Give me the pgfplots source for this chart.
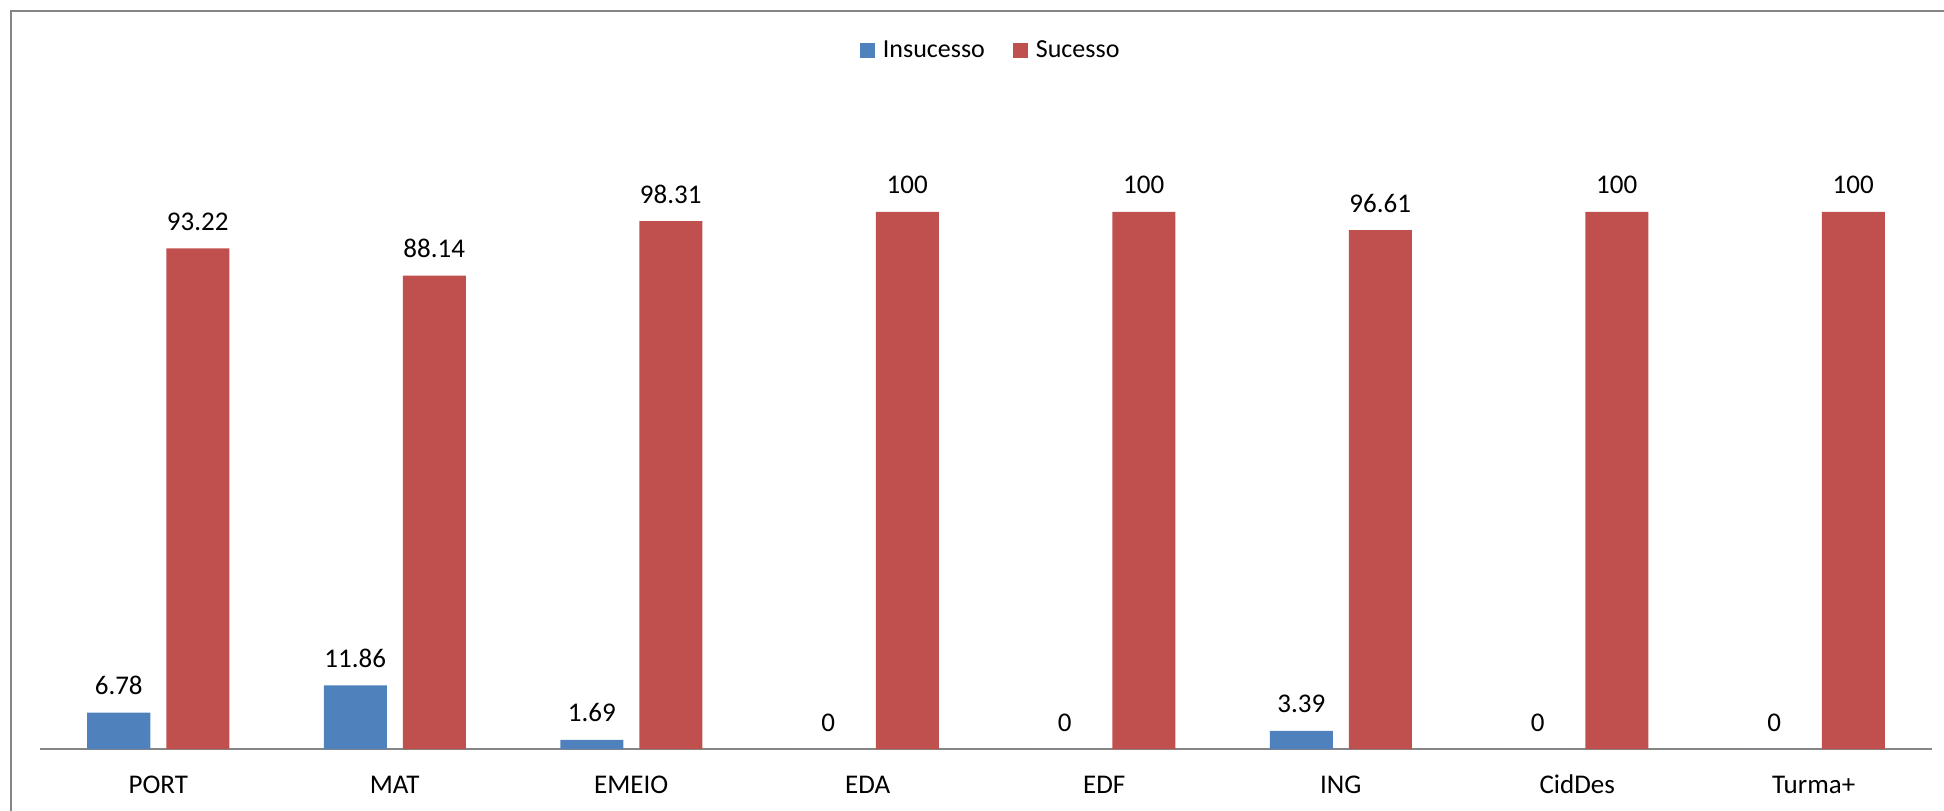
\documentclass[border=0pt]{standalone}
\usepackage{pgfplots}
\pgfplotsset{compat=1.18}
\usepackage{fontspec}
\setmainfont{Carlito}
\definecolor{cblue}{HTML}{4F81BD}
\definecolor{cred}{HTML}{C0504D}
\definecolor{cgray}{HTML}{868686}
\begin{document}
\begin{tikzpicture}[x=1pt,y=1pt]
\useasboundingbox (0,0) rectangle (972,405);
\draw[cgray, line width=1pt] (5.5,-5) -- (5.5,399.5) -- (980,399.5);
\begin{axis}[
  at={(20pt,30.5pt)}, anchor=south west,
  scale only axis, width=946pt, height=268.5pt,
  ymin=0, ymax=100, xmin=-0.5, xmax=7.5,
  clip=false,
  axis x line*=bottom, axis y line=none,
  x axis line style={cgray, line width=1pt, -},
  ybar=8pt, bar width=31.5pt,
  xtick={0,...,7},
  xticklabels={PORT,MAT,EMEIO,EDA,EDF,ING,CidDes,Turma+},
  major tick length=0pt,
  xticklabel style={anchor=base, yshift=-22pt, font=\fontsize{13.5}{16}\selectfont},
  nodes near coords={\pgfmathprintnumber[fixed,precision=2,assume math mode=true]{\pgfplotspointmeta}},
  every node near coord/.append style={anchor=base, yshift=9pt, font=\fontsize{13.5}{16}\selectfont, text=black},
  legend columns=2,
  legend style={at={(0.503,1.30)}, anchor=center, draw=none, fill=none,
    font=\fontsize{13}{15}\selectfont,
    /tikz/every odd column/.append style={column sep=2pt},
    /tikz/every even column/.append style={column sep=12pt}},
  legend image code/.code={\fill[#1] (0pt,-3.75pt) rectangle (7.5pt,3.75pt);},
]
\addplot[fill=cblue, draw=none] coordinates {(0,6.78) (1,11.86) (2,1.69) (3,0) (4,0) (5,3.39) (6,0) (7,0)};
\addplot[fill=cred, draw=none] coordinates {(0,93.22) (1,88.14) (2,98.31) (3,100) (4,100) (5,96.61) (6,100) (7,100)};
\legend{Insucesso,Sucesso}
\end{axis}
\end{tikzpicture}
\end{document}
